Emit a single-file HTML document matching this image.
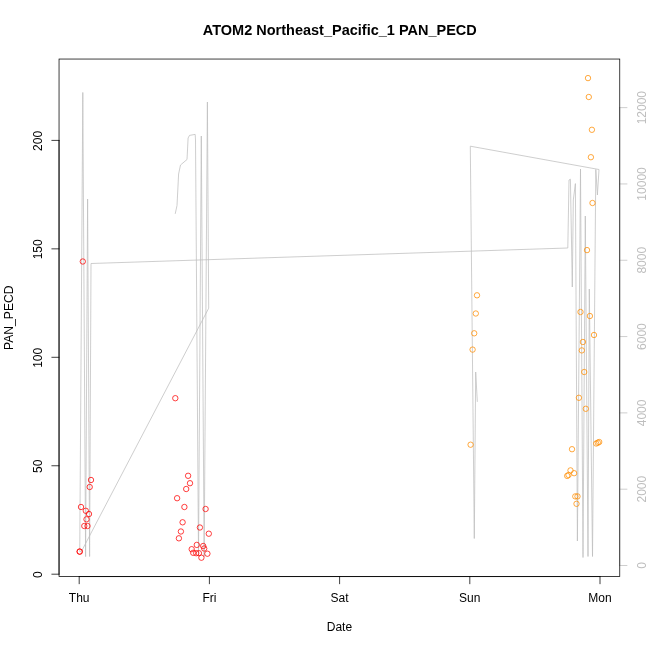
<!DOCTYPE html>
<html><head><meta charset="utf-8"><title>ATOM2 Northeast_Pacific_1 PAN_PECD</title>
<style>html,body{margin:0;padding:0;background:#fff}svg{display:block;will-change:transform}text{font-family:"Liberation Sans",Arial,Helvetica,sans-serif;font-size:12px;fill:#000}</style></head><body>
<svg width="650" height="650" viewBox="0 0 650 650">
<rect x="0" y="0" width="650" height="650" fill="#fff"/>
<polyline fill="none" stroke="#bebebe" stroke-width="0.75" stroke-linejoin="round" stroke-linecap="round" points="175.30,213.50 177.00,205.50 177.80,190.00 178.60,174.00 180.50,165.00 187.00,159.50 187.50,150.00 188.10,138.00 189.50,135.40 195.20,134.40 195.50,140.00 198.50,555.80 201.30,136.00 204.15,556.70 207.40,102.00 208.70,308.20 81.30,551.70 79.75,551.50 82.80,92.50 85.60,556.60 87.60,199.00 89.60,556.50 91.00,263.50 567.80,248.00 569.00,180.00 570.40,179.20 572.30,287.00 573.30,200.00 575.40,183.60 577.40,541.00 580.50,169.00 583.00,557.50 585.30,216.00 588.00,556.50 589.30,289.00 592.50,556.50 595.80,169.50 597.40,195.00 599.00,169.50 470.30,146.20 474.30,538.50 475.70,372.00 477.30,401.50"/>
<g fill="none" stroke="#bebebe" stroke-width="0.75" stroke-linecap="round">
<line x1="619.76" y1="565.50" x2="619.76" y2="107.64"/>
<line x1="619.76" y1="565.50" x2="626.96" y2="565.50"/>
<line x1="619.76" y1="489.19" x2="626.96" y2="489.19"/>
<line x1="619.76" y1="412.88" x2="626.96" y2="412.88"/>
<line x1="619.76" y1="336.57" x2="626.96" y2="336.57"/>
<line x1="619.76" y1="260.26" x2="626.96" y2="260.26"/>
<line x1="619.76" y1="183.95" x2="626.96" y2="183.95"/>
<line x1="619.76" y1="107.64" x2="626.96" y2="107.64"/>
</g>
<text transform="translate(646,565.50) rotate(-90)" text-anchor="middle" style="fill:#bebebe">0</text>
<text transform="translate(646,489.19) rotate(-90)" text-anchor="middle" style="fill:#bebebe">2000</text>
<text transform="translate(646,412.88) rotate(-90)" text-anchor="middle" style="fill:#bebebe">4000</text>
<text transform="translate(646,336.57) rotate(-90)" text-anchor="middle" style="fill:#bebebe">6000</text>
<text transform="translate(646,260.26) rotate(-90)" text-anchor="middle" style="fill:#bebebe">8000</text>
<text transform="translate(646,183.95) rotate(-90)" text-anchor="middle" style="fill:#bebebe">10000</text>
<text transform="translate(646,107.64) rotate(-90)" text-anchor="middle" style="fill:#bebebe">12000</text>
<g fill="none" stroke="#ff0000" stroke-width="0.75">
<circle cx="91.0" cy="480.0" r="2.7"/>
<circle cx="89.7" cy="487.0" r="2.7"/>
<circle cx="81.0" cy="507.0" r="2.7"/>
<circle cx="85.8" cy="510.8" r="2.7"/>
<circle cx="89.0" cy="514.0" r="2.7"/>
<circle cx="86.5" cy="519.3" r="2.7"/>
<circle cx="84.3" cy="526.0" r="2.7"/>
<circle cx="87.5" cy="526.0" r="2.7"/>
<circle cx="79.7" cy="551.6" r="2.7"/>
<circle cx="79.7" cy="551.6" r="2.7"/>
<circle cx="82.8" cy="261.5" r="2.7"/>
<circle cx="175.3" cy="398.2" r="2.7"/>
<circle cx="188.1" cy="475.8" r="2.7"/>
<circle cx="190.0" cy="483.2" r="2.7"/>
<circle cx="186.2" cy="489.0" r="2.7"/>
<circle cx="177.1" cy="498.2" r="2.7"/>
<circle cx="184.4" cy="507.0" r="2.7"/>
<circle cx="205.6" cy="509.0" r="2.7"/>
<circle cx="182.6" cy="522.3" r="2.7"/>
<circle cx="199.9" cy="527.5" r="2.7"/>
<circle cx="180.9" cy="531.5" r="2.7"/>
<circle cx="208.8" cy="533.7" r="2.7"/>
<circle cx="178.9" cy="538.3" r="2.7"/>
<circle cx="196.8" cy="544.9" r="2.7"/>
<circle cx="203.2" cy="546.0" r="2.7"/>
<circle cx="204.2" cy="548.5" r="2.7"/>
<circle cx="191.7" cy="549.2" r="2.7"/>
<circle cx="193.2" cy="552.8" r="2.7"/>
<circle cx="196.2" cy="553.2" r="2.7"/>
<circle cx="198.9" cy="553.2" r="2.7"/>
<circle cx="207.4" cy="553.7" r="2.7"/>
<circle cx="201.4" cy="557.7" r="2.7"/>
</g>
<g fill="none" stroke="#ff8c00" stroke-width="0.75">
<circle cx="477.0" cy="295.3" r="2.7"/>
<circle cx="475.8" cy="313.5" r="2.7"/>
<circle cx="474.2" cy="333.3" r="2.7"/>
<circle cx="472.6" cy="349.6" r="2.7"/>
<circle cx="470.6" cy="444.7" r="2.7"/>
<circle cx="588.0" cy="78.1" r="2.7"/>
<circle cx="588.8" cy="97.0" r="2.7"/>
<circle cx="591.9" cy="129.8" r="2.7"/>
<circle cx="590.9" cy="157.2" r="2.7"/>
<circle cx="592.5" cy="203.0" r="2.7"/>
<circle cx="587.0" cy="250.1" r="2.7"/>
<circle cx="580.5" cy="312.0" r="2.7"/>
<circle cx="589.9" cy="316.0" r="2.7"/>
<circle cx="594.0" cy="335.0" r="2.7"/>
<circle cx="582.9" cy="342.0" r="2.7"/>
<circle cx="581.8" cy="350.4" r="2.7"/>
<circle cx="584.2" cy="372.0" r="2.7"/>
<circle cx="578.9" cy="397.8" r="2.7"/>
<circle cx="585.8" cy="408.8" r="2.7"/>
<circle cx="572.0" cy="449.2" r="2.7"/>
<circle cx="596.2" cy="443.5" r="2.7"/>
<circle cx="597.8" cy="442.7" r="2.7"/>
<circle cx="599.2" cy="442.0" r="2.7"/>
<circle cx="570.5" cy="470.4" r="2.7"/>
<circle cx="574.1" cy="473.2" r="2.7"/>
<circle cx="567.2" cy="475.9" r="2.7"/>
<circle cx="568.5" cy="475.0" r="2.7"/>
<circle cx="575.3" cy="496.4" r="2.7"/>
<circle cx="577.5" cy="496.4" r="2.7"/>
<circle cx="576.5" cy="503.8" r="2.7"/>
</g>
<rect x="59.04" y="59.04" width="560.72" height="517.52" fill="none" stroke="#000" stroke-width="0.75"/>
<g fill="none" stroke="#000" stroke-width="0.75" stroke-linecap="round">
<line x1="79.2" y1="576.56" x2="600.0" y2="576.56"/>
<line x1="79.2" y1="576.56" x2="79.2" y2="583.76"/>
<line x1="209.4" y1="576.56" x2="209.4" y2="583.76"/>
<line x1="339.6" y1="576.56" x2="339.6" y2="583.76"/>
<line x1="469.8" y1="576.56" x2="469.8" y2="583.76"/>
<line x1="600.0" y1="576.56" x2="600.0" y2="583.76"/>
<line x1="59.04" y1="574.2" x2="59.04" y2="140.4"/>
<line x1="59.04" y1="574.2" x2="51.84" y2="574.2"/>
<line x1="59.04" y1="465.75" x2="51.84" y2="465.75"/>
<line x1="59.04" y1="357.3" x2="51.84" y2="357.3"/>
<line x1="59.04" y1="248.85" x2="51.84" y2="248.85"/>
<line x1="59.04" y1="140.4" x2="51.84" y2="140.4"/>
</g>
<text x="79.2" y="602" text-anchor="middle">Thu</text>
<text x="209.4" y="602" text-anchor="middle">Fri</text>
<text x="339.6" y="602" text-anchor="middle">Sat</text>
<text x="469.8" y="602" text-anchor="middle">Sun</text>
<text x="600.0" y="602" text-anchor="middle">Mon</text>
<text transform="translate(42.4,574.70) rotate(-90)" text-anchor="middle">0</text>
<text transform="translate(42.4,466.25) rotate(-90)" text-anchor="middle">50</text>
<text transform="translate(42.4,357.80) rotate(-90)" text-anchor="middle">100</text>
<text transform="translate(42.4,249.35) rotate(-90)" text-anchor="middle">150</text>
<text transform="translate(42.4,140.90) rotate(-90)" text-anchor="middle">200</text>
<text transform="translate(339.8,34.75) scale(1.0078,1.055)" text-anchor="middle" style="font-size:14.4px;font-weight:bold">ATOM2 Northeast_Pacific_1 PAN_PECD</text>
<text x="339.4" y="630.6" text-anchor="middle">Date</text>
<text transform="translate(13.2,317.75) rotate(-90) scale(1.014,1)" text-anchor="middle">PAN_PECD</text>
</svg></body></html>
